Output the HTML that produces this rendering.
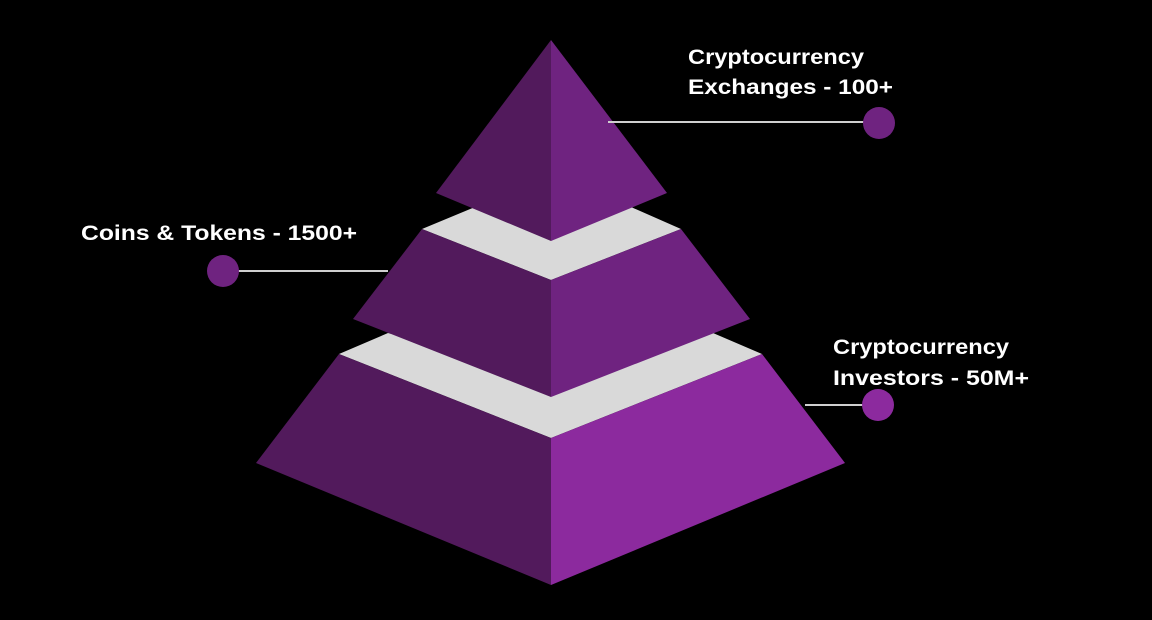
<!DOCTYPE html>
<html><head><meta charset="utf-8"><style>
html,body{margin:0;padding:0;background:#000;}
svg{display:block;}
text{font-family:"Liberation Sans",sans-serif;font-weight:bold;font-size:21px;fill:#fff;}
</style></head><body>
<svg width="1152" height="620" viewBox="0 0 1152 620">
<rect width="1152" height="620" fill="#000"/>
<!-- gray band 2 -->
<polygon points="388,333 551,375 713,333 762,354 551,438 339,354" fill="#d9d9d9"/>
<!-- bottom tier -->
<polygon points="339,354 256,463 551,585 551,438" fill="#521a5c"/>
<polygon points="762,354 845,463 551,585 551,438" fill="#8c2a9e"/>
<!-- gray band 1 -->
<polygon points="475,207 551,222 631,207 681,229 551,280 422,229" fill="#d9d9d9"/>
<!-- middle tier -->
<polygon points="422,229 353,319 551,397 551,280" fill="#521a5c"/>
<polygon points="681,229 750,319 551,397 551,280" fill="#6f2380"/>
<!-- top tier -->
<polygon points="551,40 436,193 551,241" fill="#521a5c"/>
<polygon points="551,40 667,193 551,241" fill="#6f2380"/>
<!-- connectors -->
<line x1="608" y1="122" x2="880" y2="122" stroke="#cfcfcf" stroke-width="2"/>
<circle cx="879" cy="123" r="16" fill="#6f2380"/>
<line x1="223" y1="271" x2="388" y2="271" stroke="#cfcfcf" stroke-width="2"/>
<circle cx="223" cy="271" r="16" fill="#6f2380"/>
<line x1="805" y1="405" x2="878" y2="405" stroke="#cfcfcf" stroke-width="2"/>
<circle cx="878" cy="405" r="16" fill="#8c2a9e"/>
<!-- labels -->
<text x="688" y="64" textLength="176" lengthAdjust="spacingAndGlyphs">Cryptocurrency</text>
<text x="688" y="94" textLength="205" lengthAdjust="spacingAndGlyphs">Exchanges - 100+</text>
<text x="81" y="240" textLength="276" lengthAdjust="spacingAndGlyphs">Coins &amp; Tokens - 1500+</text>
<text x="833" y="354" textLength="176" lengthAdjust="spacingAndGlyphs">Cryptocurrency</text>
<text x="833" y="385" textLength="196" lengthAdjust="spacingAndGlyphs">Investors - 50M+</text>
</svg>
</body></html>
